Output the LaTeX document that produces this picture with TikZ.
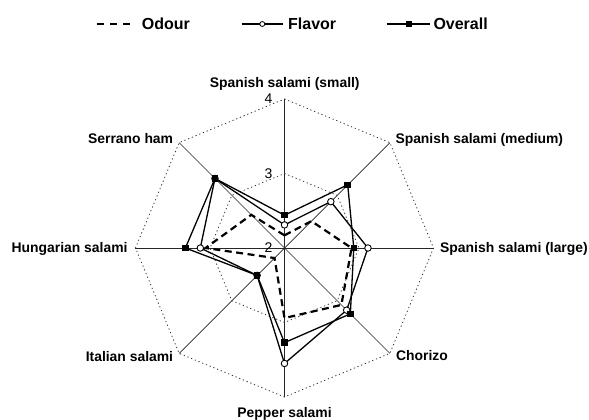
\documentclass[tikz,border=0pt]{standalone}
\usepackage{fontspec}
\setmainfont{Liberation Sans}
\begin{document}
\begin{tikzpicture}[x=1bp,y=1bp,
  axis/.style={line width=0.7bp, black!85},
  ring/.style={line width=0.8bp, dash pattern=on 1.2bp off 2.8bp, black!80},
  odour/.style={line width=2.2bp, dash pattern=on 7bp off 4.5bp},
  series/.style={line width=1.3bp, line join=miter},
  sq/.style={rectangle, fill=black, draw=none, minimum size=6.5bp, inner sep=0pt},
  circ/.style={circle, fill=white, draw=black, line width=0.9bp, minimum size=6.5bp, inner sep=0pt},
  lab/.style={font=\fontsize{13.9bp}{16bp}\selectfont\bfseries, inner sep=0pt},
  num/.style={font=\fontsize{14bp}{16bp}\selectfont, inner sep=0pt, anchor=east},
  leg/.style={font=\fontsize{16bp}{18bp}\selectfont\bfseries, inner sep=0pt, anchor=base west}
]
\useasboundingbox (-284.5,-171) rectangle (304.5,248);
\coordinate (c) at (0,0);
% axes and rings
\foreach \a/\n in {90/1,45/2,0/3,-45/4,-90/5,-135/6,180/7,135/8}{
  \coordinate (e\n) at (\a:149);
  \coordinate (m\n) at (\a:74.5);
}
\foreach \n in {1,...,8}{ \draw[axis] (c) -- (e\n); }
\draw[ring] (e1)--(e2)--(e3)--(e4)--(e5)--(e6)--(e7)--(e8)--cycle;
\draw[ring] (m1)--(m2)--(m3)--(m4)--(m5)--(m6)--(m7)--(m8)--cycle;
% data
\foreach \a/\n/\o/\f/\v in {
  90/1/2.17/2.31/2.44,
  45/2/2.51/2.88/3.20,
  0/3/2.90/3.12/2.93,
  -45/4/3.08/3.18/3.25,
  -90/5/2.94/3.55/3.27,
  -135/6/2.19/2.52/2.52,
  180/7/3.06/3.13/3.33,
  135/8/2.63/3.32/3.32}{
  \coordinate (o\n) at (\a:{(\o-2)*74.5});
  \coordinate (f\n) at (\a:{(\f-2)*74.5});
  \coordinate (v\n) at (\a:{(\v-2)*74.5});
}
\draw[odour] (o1)--(o2)--(o3)--(o4)--(o5)--(o6)--(o7)--(o8)--cycle;
\draw[series] (f1)--(f2)--(f3)--(f4)--(f5)--(f6)--(f7)--(f8)--cycle;
\draw[series] (v1)--(v2)--(v3)--(v4)--(v5)--(v6)--(v7)--(v8)--cycle;
\foreach \n in {1,...,8}{ \node[circ] (fm\n) at (f\n) {}; }
\foreach \n in {1,...,8}{ \node[sq] (vm\n) at (v\n) {}; }
% scale numbers
\node[num] (n4) at (-12,149.5) {4};
\node[num] (n3) at (-12,74.5) {3};
\node[num] (n2) at (-12,0) {2};
% axis labels
\node[lab, anchor=base] (l1) at (0.2,161) {Spanish salami (small)};
\node[lab, anchor=base west] (l2) at (110.8,105) {Spanish salami (medium)};
\node[lab, anchor=base west] (l3) at (155.5,-4) {Spanish salami (large)};
\node[lab, anchor=base west] (l4) at (111.5,-112.7) {Chorizo};
\node[lab, anchor=base] (l5) at (0,-169) {Pepper salami};
\node[lab, anchor=base east] (l6) at (-111.2,-113) {Italian salami};
\node[lab, anchor=base east] (l7) at (-156.8,-4.3) {Hungarian salami};
\node[lab, anchor=base east] (l8) at (-111.2,105) {Serrano ham};
% legend
\coordinate (loa) at (-187.5,224);
\coordinate (lob) at (-153.5,224);
\draw[line width=2bp, dash pattern=on 7bp off 6bp] (loa) -- (lob);
\node[leg] (lot) at (-142.8,218.3) {Odour};
\coordinate (lfa) at (-42.8,224);
\coordinate (lfb) at (-1.2,224);
\draw[line width=1.1bp] (lfa) -- (lfb);
\node[circ, minimum size=5bp, line width=0.8bp] (lfm) at (-22.2,224) {};
\node[leg] (lft) at (3.5,218.3) {Flavor};
\coordinate (lva) at (102.2,224);
\coordinate (lvb) at (145.5,224);
\draw[line width=1.1bp] (lva) -- (lvb);
\node[sq, minimum size=6bp] (lvm) at (124.8,224) {};
\node[leg] (lvt) at (148.8,218.3) {Overall};
\end{tikzpicture}
\end{document}
